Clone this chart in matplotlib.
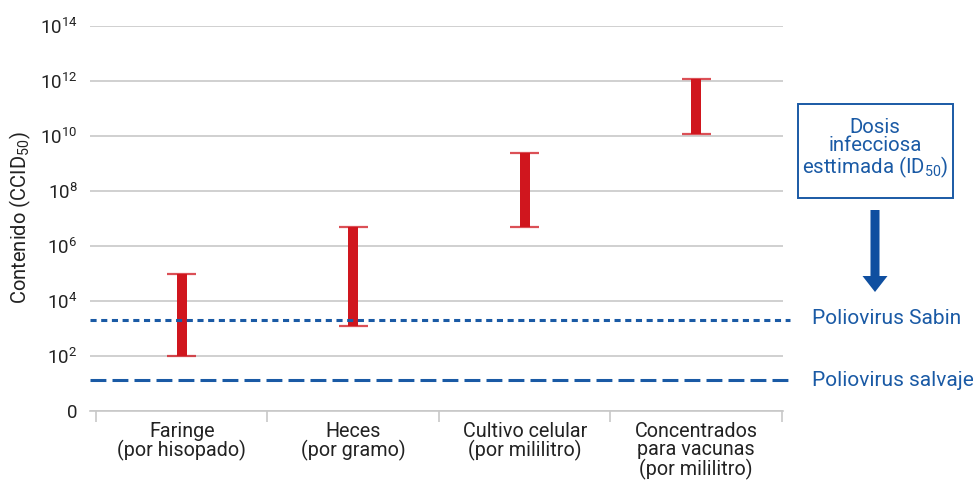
import numpy as np
import matplotlib
matplotlib.use('Agg')
import matplotlib.pyplot as plt
from matplotlib.patches import Rectangle, FancyArrow
from matplotlib.ticker import FixedLocator, NullLocator

plt.rcParams['font.family'] = ['Roboto', 'DejaVu Sans']

# data
categories = ['Faringe\n(por hisopado)', 'Heces\n(por gramo)',
              'Cultivo celular\n(por mililitro)',
              'Concentrados\npara vacunas\n(por mililitro)']
low = np.array([1e2, 1.2e3, 5e6, 1.2e10])
high = np.array([1e5, 5e6, 2.4e9, 1.2e12])
sabin = 2e3
salvaje = 13
exps = [0, 2, 4, 6, 8, 10, 12, 14]
ylabels = ['0'] + [r'$\mathregular{10^{%d}}$' % e for e in exps[1:]]

red = '#d0161e'
blue = '#1a5aa5'
grey = '#c8c8c8'
txt = '#222222'

W, H = 973, 480
fig = plt.figure(figsize=(W / 100, H / 100), dpi=100)
ax = fig.add_axes([90 / W, 69 / H, 693 / W, 385 / H])
ax.set_yscale('log')
ax.set_ylim(1, 1e14)
ax.set_xlim(-0.535, 3.506)

x = np.arange(len(categories))
ax.bar(x, high - low, bottom=low, width=10 / 171.5, color=red, zorder=3)
ax.hlines(low, x - 0.085, x + 0.085, color=red, lw=1.6, alpha=0.75, zorder=3)
ax.hlines(high, x - 0.085, x + 0.085, color=red, lw=1.6, alpha=0.75, zorder=3)

# reference lines
ax.axhline(sabin, xmin=0, xmax=1.01, clip_on=False, color=blue, lw=2.2,
           dashes=(2.0, 1.5), zorder=4)
ax.axhline(salvaje, xmin=0, xmax=1.01, clip_on=False, color=blue, lw=2.2,
           dashes=(5.2, 2.0), zorder=4)

# axes styling
for s in ['top', 'right', 'left']:
    ax.spines[s].set_visible(False)
ax.spines['bottom'].set_color(grey)
ax.spines['bottom'].set_linewidth(1.2)

ax.yaxis.set_major_locator(FixedLocator([10.0 ** e for e in exps]))
ax.yaxis.set_minor_locator(NullLocator())
ax.set_yticklabels(ylabels)
ax.tick_params(axis='y', length=0, pad=9, labelsize=13.5, labelcolor=txt)
ax.grid(axis='y', color=grey, lw=1.2, zorder=0)

ax.set_xticks(x)
ax.set_xticklabels(categories, linespacing=0.95)
ax.set_xticks(np.arange(-0.5, 4, 1), minor=True)
ax.tick_params(axis='x', which='major', length=0, pad=8, labelsize=14.2,
               labelcolor=txt)
ax.tick_params(axis='x', which='minor', length=8, width=1.2, color=grey)

fig.text(20 / W, 1 - 218 / H, r'Contenido (CCID$\mathregular{_{50}}$)',
         rotation=90, ha='center', va='center', fontsize=14.5, color=txt)

# right side annotations
fig.text(812 / W, 1 - 319 / H, 'Poliovirus Sabin', ha='left', va='center',
         fontsize=15, color=blue)
fig.text(812 / W, 1 - 380 / H, 'Poliovirus salvaje', ha='left', va='center',
         fontsize=15, color=blue)

fig.add_artist(Rectangle((7.98, (H - 198) / 100), 1.55, 0.94, fill=False,
                         ec=blue, lw=1.4, transform=fig.dpi_scale_trans))
fig.text(875 / W, 1 - 149 / H, 'Dosis\ninfecciosa\nesttimada (ID$\\mathregular{_{50}}$)',
         ha='center', va='center', fontsize=14.7, color=blue, linespacing=0.95)
fig.add_artist(FancyArrow(8.75, (H - 210) / 100, 0, -0.82, width=0.09,
                          head_width=0.25, head_length=0.16,
                          length_includes_head=True, color='#0f4fa0', lw=0,
                          transform=fig.dpi_scale_trans))

fig.savefig('out.png', dpi=100, facecolor='w')
